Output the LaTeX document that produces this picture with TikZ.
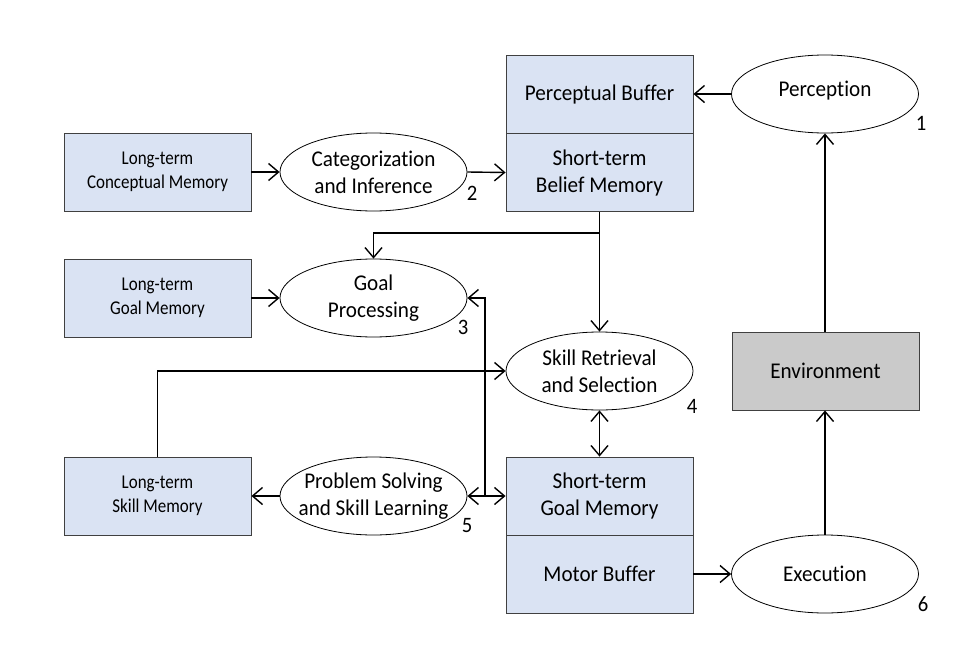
\documentclass[tikz,border=0pt]{standalone}
\usepackage{fontspec}
\setmainfont{Carlito}
\newfontfamily\leftfont{Carlito}[FakeStretch=0.87,Ligatures=NoCommon]
\newfontfamily\rightfont{Carlito}[FakeStretch=0.94,Ligatures=NoCommon]
\usetikzlibrary{arrows.meta,shapes.geometric}
\definecolor{boxblue}{HTML}{DAE3F3}
\definecolor{envgray}{HTML}{CACACA}
\definecolor{boxline}{HTML}{404040}
\tikzset{
  membox/.style={draw=boxline, line width=0.9pt, fill=boxblue, rectangle, minimum width=187pt, minimum height=78pt, inner sep=0pt, align=center, font=\leftfont\fontsize{19.5}{24}\selectfont},
  bufbox/.style={membox, font=\rightfont\fontsize{22.5}{27}\selectfont},
  envbox/.style={membox, fill=envgray, font=\rightfont\fontsize{22.5}{27}\selectfont},
  procell/.style={draw=black, line width=0.8pt, ellipse, minimum width=187pt, minimum height=78pt, inner sep=0pt},
  proctext/.style={align=center, inner sep=0pt, font=\rightfont\fontsize{22.5}{27}\selectfont},
  numlbl/.style={inner sep=0pt, font=\rightfont\fontsize{22}{24}\selectfont},
  arr/.style={line width=1.4pt, -{Straight Barb[length=10pt,width=17pt,line width=1.4pt]}},
  darr/.style={line width=1.4pt, {Straight Barb[length=10pt,width=17pt,line width=1.4pt]}-{Straight Barb[length=10pt,width=17pt,line width=1.4pt]}}
}
\begin{document}
\begin{tikzpicture}[x=1pt,y=-1pt]
\useasboundingbox (0,0) rectangle (962,648);
% right column boxes
\node[bufbox] (pb) at (599.5,94) {Perceptual Buffer};
\node[bufbox] (sbm) at (599.5,172.5) {Short-term\\Belief Memory};
\node[bufbox] (sgm) at (599.5,496) {Short-term\\Goal Memory};
\node[bufbox] (mb) at (599.5,574) {Motor Buffer};
\node[envbox] (env) at (825.5,371) {Environment};
% left column boxes
\node[membox] (ltcm) at (157.5,172) {Long-term\\Conceptual Memory};
\node[membox] (ltgm) at (157.5,298) {Long-term\\Goal Memory};
\node[membox] (ltsm) at (157.5,496) {Long-term\\Skill Memory};
% processes
\node[procell] (per) at (825,94) {};
\node[proctext] at (825,91) {Perception};
\node[procell] (cat) at (373.5,172) {};
\node[proctext] at (cat) {Categorization\\and Inference};
\node[procell] (gp) at (373.5,298) {};
\node[proctext] at (gp) {Goal\\Processing};
\node[procell] (srs) at (599.5,371) {};
\node[proctext] at (srs) {Skill Retrieval\\and Selection};
\node[procell] (pss) at (373.5,496) {};
\node[proctext] at (pss) {Problem Solving\\and Skill Learning};
\node[procell] (exe) at (825,574) {};
\node[proctext] at (exe) {Execution};
% numbers
\node[numlbl] (n1) at (921,123) {1};
\node[numlbl] (n2) at (472,193) {2};
\node[numlbl] (n3) at (463,327) {3};
\node[numlbl] (n4) at (692,406) {4};
\node[numlbl] (n5) at (467,526) {5};
\node[numlbl] (n6) at (923,604) {6};
% connectors
\draw[arr] (per.west) -- (pb.east);
\draw[arr] (env.north -| per.south) -- (per.south);
\draw[arr] (exe.north) -- (exe.north |- env.south);
\draw[arr] (mb.east) -- (exe.west);
\draw[darr] (srs.south) -- (sgm.north);
\draw[arr] (ltcm.east) -- (cat.west);
\draw[arr] (cat.east) -- (sbm.west);
\draw[arr] (ltgm.east) -- (gp.west);
\draw[arr] (pss.west) -- (ltsm.east);
\draw[darr] (pss.east) -- (sgm.west);
\coordinate (j1) at (599.5,233);
\coordinate (j2) at (485,496);
\draw[arr] (sbm.south) -- (srs.north);
\draw[arr] (j1) -| (gp.north);
\draw[arr] (j2) |- (gp.east);
\draw[arr] (ltsm.north) |- (srs.west);
\end{tikzpicture}
\end{document}
